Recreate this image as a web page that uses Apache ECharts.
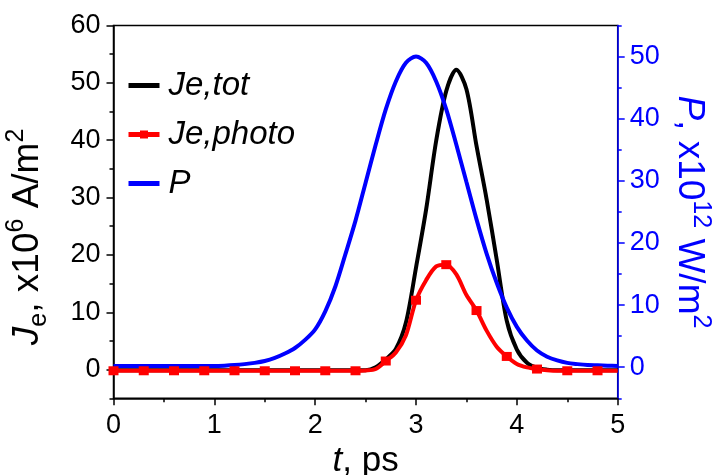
<!DOCTYPE html>
<html>
<head>
<meta charset="utf-8">
<script src="https://cdn.jsdelivr.net/npm/echarts@6/dist/echarts.min.js"></script>
<style>
html,body{margin:0;padding:0;background:#fff;}
#chart{width:715px;height:475px;}
</style>
</head>
<body>
<div id="chart"></div>
<script>
// ---- data ----
const tValues = [0.0,0.1,0.2,0.3,0.4,0.5,0.6,0.7,0.8,0.9,1.0,1.1,1.2,1.3,1.4,1.5,1.6,1.7,1.8,1.9,2.0,2.1,2.2,2.3,2.4,2.5,2.6,2.7,2.8,2.9,3.0,3.1,3.2,3.3,3.4,3.5,3.6,3.7,3.8,3.9,4.0,4.1,4.2,4.3,4.4,4.5,4.6,4.7,4.8,4.9,5.0];
const jeTot = [-0.1,-0.1,-0.1,-0.1,-0.1,-0.1,-0.1,-0.1,-0.1,-0.1,-0.1,-0.1,-0.1,-0.1,-0.1,-0.1,-0.1,-0.1,-0.1,-0.1,-0.1,-0.1,-0.1,-0.1,-0.1,-0.1,
  0.4,1.8,3.6,8.2,17.8,27.9,39.9,48.6,52.3,48.9,39.0,29.7,19.2,8.5,3.5,1.2,0.3,0.0,
  -0.1,-0.1,-0.1,-0.1,-0.1,-0.1,-0.1];
const jePhoto = [-0.2,-0.2,-0.2,-0.2,-0.2,-0.2,-0.2,-0.2,-0.2,-0.2,-0.2,-0.2,-0.2,-0.2,-0.2,-0.2,-0.2,-0.2,-0.2,-0.2,-0.2,-0.2,-0.2,-0.2,-0.2,
  -0.15,0.1,1.5,3.0,6.0,12.1,15.6,18.0,18.3,16.6,13.0,10.3,6.8,4.0,2.3,1.0,0.4,0.1,-0.1,
  -0.2,-0.2,-0.2,-0.2,-0.2,-0.2,-0.2];
const pulseP = [0.2,0.2,0.2,0.2,0.2,0.2,0.2,0.2,0.2,0.2,
  0.2,0.25,0.35,0.5,0.7,1.0,1.5,2.2,3.1,4.4,6.1,9.0,13.0,18.2,23.6,29.7,35.8,41.5,46.0,49.0,50.0,
  49.0,46.0,41.5,35.8,29.8,23.8,18.3,13.6,9.6,6.5,4.3,2.7,1.7,1.1,0.7,0.5,0.35,0.3,0.25,0.2];
const markerEvery = 3; // markers every 0.3 ps on Je,photo
const seriesNames = ['Je,tot', 'Je,photo', 'P'];
const xTicks = [0,1,2,3,4,5];
const xMinorTicks = [0.5,1.5,2.5,3.5,4.5];
const leftTicks = [0,10,20,30,40,50,60];
const leftMinorTicks = [-5,5,15,25,35,45,55];
const rightTicks = [0,10,20,30,40,50];
const rightMinorTicks = [-5,5,15,25,35,45,55];

const FONT = 'Liberation Sans, Arial, sans-serif';
const BLUE = '#0000ff';
const RED = '#ff0000';

function pairs(ys){ return tValues.map((t,i)=>[t, ys[i]]); }

const chart = echarts.init(document.getElementById('chart'), null, {renderer:'canvas'});

const TF = 35, SF = 24, YTF = 37, YSF = 25;
const supStyle = (c, s)=>({fontSize:s, fontFamily:FONT, color:c, verticalAlign:'top', lineHeight:s});
const subStyle = (c, s)=>({fontSize:s, fontFamily:FONT, color:c, verticalAlign:'bottom', lineHeight:s});
const nStyle = (c, s)=>({fontSize:s, fontFamily:FONT, color:c, lineHeight:Math.round(s*1.3)});
const iStyle = (c, s)=>({fontSize:s, fontFamily:FONT, color:c, fontStyle:'italic', lineHeight:Math.round(s*1.3)});

const option = {
  animation:false,
  backgroundColor:'#fff',
  grid:{left:113.5, right:97.3, top:25.5, bottom:76.7, outerBoundsMode:'none', containLabel:false,
        show:true, borderColor:'#000', borderWidth:1.5, backgroundColor:'transparent'},
  legend:{
    data:[{name:seriesNames[0], itemStyle:{opacity:0}}, {name:seriesNames[1]}, {name:seriesNames[2], itemStyle:{opacity:0}}],
    orient:'vertical', left:121, top:64,
    itemWidth:31, itemHeight:10, itemGap:16,
    lineStyle:{width:5},
    textStyle:{fontSize:33, fontStyle:'italic', fontFamily:FONT, color:'#000', padding:[0,0,0,4]}
  },
  xAxis:[
    {type:'value', min:0, max:5, position:'bottom',
     axisLine:{show:true, onZero:false, lineStyle:{color:'#000', width:1.5}},
     axisTick:{show:true, inside:false, length:7, customValues:xTicks, lineStyle:{color:'#000', width:1.5}},
     axisLabel:{show:true, customValues:xTicks, fontSize:27, fontFamily:FONT, color:'#000', margin:14},
     splitLine:{show:false},
     name:'{i|t}{n|, ps}', nameLocation:'middle', nameGap:36,
     nameTextStyle:{rich:{i:iStyle('#000', TF), n:nStyle('#000', TF)}}
    },
    {type:'value', min:0, max:5, position:'bottom',
     axisLine:{show:false, onZero:false},
     axisTick:{show:true, inside:false, length:4, customValues:xMinorTicks, lineStyle:{color:'#000', width:1.5}},
     axisLabel:{show:false}, splitLine:{show:false}}
  ],
  yAxis:[
    {type:'value', min:-5, max:60, position:'left',
     axisLine:{show:true, onZero:false, lineStyle:{color:'#000', width:1.5}},
     axisTick:{show:true, inside:false, length:7, customValues:leftTicks, lineStyle:{color:'#000', width:1.5}},
     axisLabel:{show:true, customValues:leftTicks, fontSize:27, fontFamily:FONT, color:'#000', margin:13},
     splitLine:{show:false},
     name:'{i|J}{sub|e}{n|, x10}{sup|6}{n| A/m}{sup|2}', nameLocation:'middle', nameGap:62, nameRotate:90,
     nameTextStyle:{padding:[0,50,0,0], rich:{i:iStyle('#000', YTF), n:nStyle('#000', YTF), sub:subStyle('#000', YSF), sup:supStyle('#000', YSF)}}
    },
    {type:'value', min:-5, max:55, position:'right',
     axisLine:{show:true, onZero:false, lineStyle:{color:BLUE, width:1.5}},
     axisTick:{show:true, inside:false, length:7, customValues:rightTicks, lineStyle:{color:BLUE, width:1.5}},
     axisLabel:{show:true, customValues:rightTicks, fontSize:27, fontFamily:FONT, color:BLUE, margin:12},
     splitLine:{show:false},
     name:'{i|P}{n|, x10}{sup|12}{n| W/m}{sup|2}', nameLocation:'middle', nameGap:46, nameRotate:-90,
     nameTextStyle:{rich:{i:iStyle(BLUE, YTF), n:nStyle(BLUE, YTF), sup:supStyle(BLUE, YSF)}}
    },
    {type:'value', min:-5, max:60, position:'left',
     axisLine:{show:false, onZero:false},
     axisTick:{show:true, inside:false, length:4, customValues:leftMinorTicks, lineStyle:{color:'#000', width:1.5}},
     axisLabel:{show:false}, splitLine:{show:false}},
    {type:'value', min:-5, max:55, position:'right',
     axisLine:{show:false, onZero:false},
     axisTick:{show:true, inside:false, length:4, customValues:rightMinorTicks, lineStyle:{color:BLUE, width:1.5}},
     axisLabel:{show:false}, splitLine:{show:false}}
  ],
  series:[
    {name:seriesNames[0], type:'line', xAxisIndex:0, yAxisIndex:0, data:pairs(jeTot),
     smooth:0.3, symbol:'none', color:'#000', lineStyle:{color:'#000', width:4}},
    {name:seriesNames[1], type:'line', xAxisIndex:0, yAxisIndex:0, data:pairs(jePhoto),
     smooth:0.3, symbol:'rect', showAllSymbol:true,
     symbolSize:(v, p)=> (p && p.dataIndex % markerEvery === 0) ? [10,9] : 0,
     color:RED, itemStyle:{color:RED}, lineStyle:{color:RED, width:4}},
    {name:seriesNames[2], type:'line', xAxisIndex:0, yAxisIndex:1, data:pairs(pulseP),
     smooth:0.3, symbol:'none', color:BLUE, lineStyle:{color:BLUE, width:4}}
  ]
};
chart.setOption(option);
</script>
</body>
</html>
